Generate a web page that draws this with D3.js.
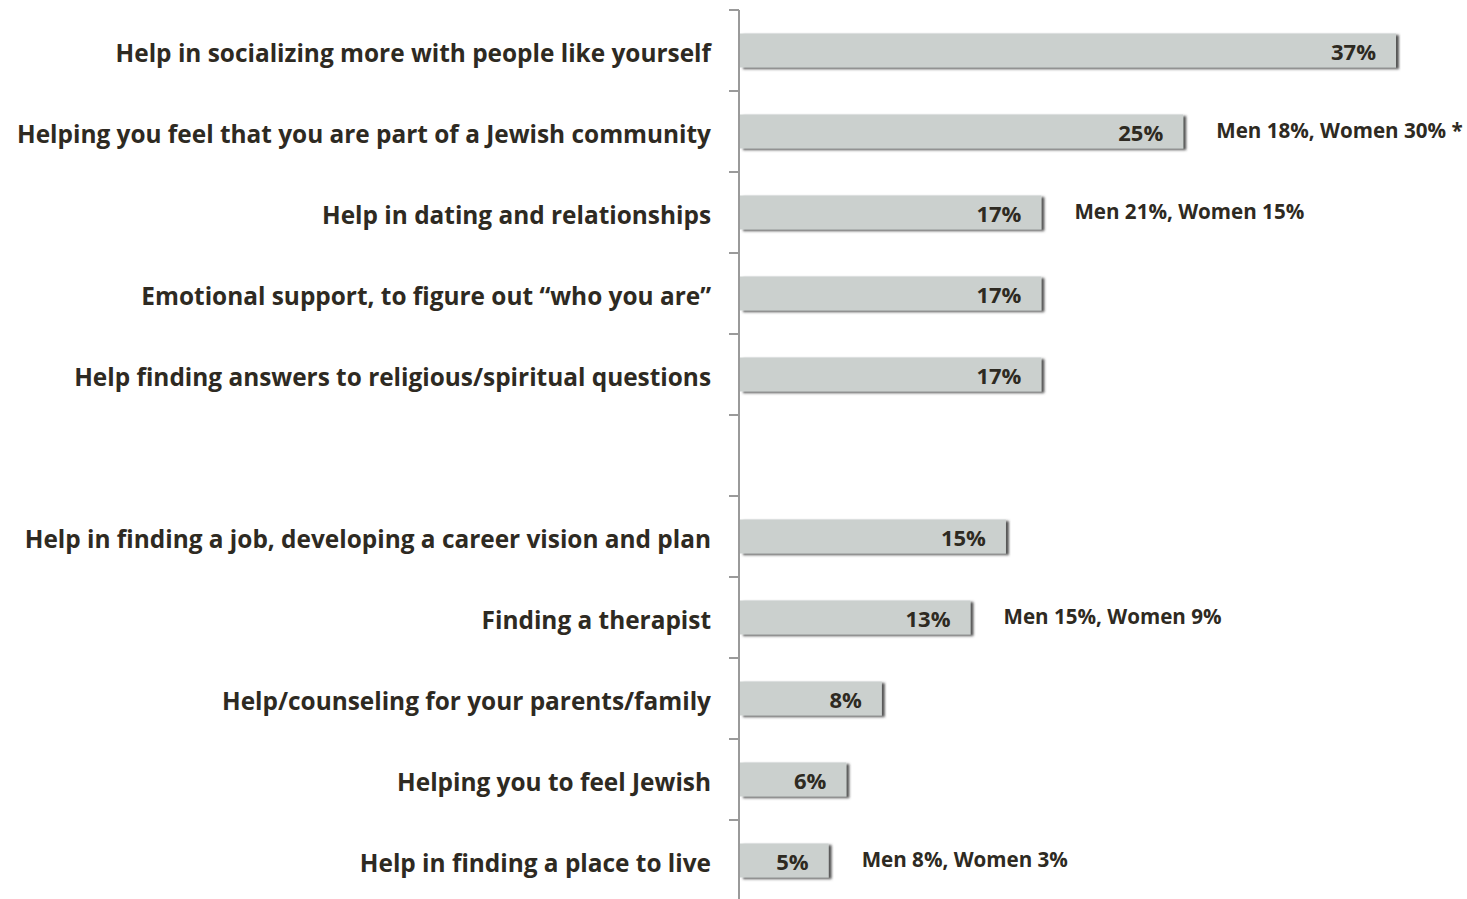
<!DOCTYPE html>
<html>
<head>
<meta charset="utf-8">
<script src="https://cdn.jsdelivr.net/npm/d3@7"></script>
<style>
  html, body { margin: 0; padding: 0; background: #ffffff; }
  svg { display: block; }
  text { font-family: "Open Sans", Lato, sans-serif; font-weight: 700; fill: #2e2a22; }
</style>
</head>
<body>
<svg id="chart" width="1467" height="899"></svg>
<script>
// Categories top to bottom; the empty string marks the gap between the two groups
const categories = [
  "Help in socializing more with people like yourself",
  "Helping you feel that you are part of a Jewish community",
  "Help in dating and relationships",
  "Emotional support, to figure out \u201cwho you are\u201d",
  "Help finding answers to religious/spiritual questions",
  "",
  "Help in finding a job, developing a career vision and plan",
  "Finding a therapist",
  "Help/counseling for your parents/family",
  "Helping you to feel Jewish",
  "Help in finding a place to live"
];
const values = [37, 25, 17, 17, 17, null, 15, 13, 8, 6, 5];
const genderNotes = [
  "",
  "Men 18%, Women 30% *",
  "Men 21%, Women 15%",
  "",
  "",
  "",
  "",
  "Men 15%, Women 9%",
  "",
  "",
  "Men 8%, Women 3%"
];

const svg = d3.select("#chart");
const axisX = 739;

const keys = categories.map((c, i) => i);
const y = d3.scaleBand().domain(keys).range([10, 901]).paddingInner(0).paddingOuter(0);
const x = d3.scaleLinear().domain([0, 37]).range([axisX + 1, 1396]);

const barH = y.bandwidth() * 0.42;
const mid = k => y(k) + y.bandwidth() / 2;

// Drop shadow for the bars
const defs = svg.append("defs");
const f = defs.append("filter").attr("id", "shadow")
  .attr("x", "-5%").attr("y", "-30%").attr("width", "115%").attr("height", "170%");
f.append("feDropShadow").attr("dx", 3).attr("dy", 1.5).attr("stdDeviation", 1.3)
  .attr("flood-color", "#3a3a3a").attr("flood-opacity", 0.85);

const rows = keys.filter(k => values[k] !== null);

// Bars
svg.append("g").selectAll("rect").data(rows).join("rect")
  .attr("x", x(0))
  .attr("y", k => mid(k) - barH / 2)
  .attr("width", k => x(values[k]) - x(0))
  .attr("height", barH)
  .attr("fill", "#cbd0ce")
  .attr("filter", "url(#shadow)");

// Vertical axis with outward ticks on band boundaries
const boundaries = d3.range(categories.length).map(i => y(i));
const axisG = svg.append("g");
axisG.append("line")
  .attr("x1", axisX).attr("x2", axisX)
  .attr("y1", y(0)).attr("y2", 899)
  .attr("stroke", "#9a9a9a").attr("stroke-width", 2);
axisG.selectAll("line.tick").data(boundaries).join("line")
  .attr("class", "tick")
  .attr("x1", axisX - 10).attr("x2", axisX)
  .attr("y1", d => d).attr("y2", d => d)
  .attr("stroke", "#9a9a9a").attr("stroke-width", 2);

// Category labels
svg.append("g").selectAll("text").data(rows).join("text")
  .attr("x", 711)
  .attr("y", k => mid(k) + 3)
  .attr("dy", "0.36em")
  .attr("text-anchor", "end")
  .attr("font-size", 24.4)
  .text(k => categories[k]);

// Value labels inside bar ends
svg.append("g").selectAll("text").data(rows).join("text")
  .attr("x", k => x(values[k]) - 20)
  .attr("y", k => mid(k) + 2)
  .attr("dy", "0.36em")
  .attr("text-anchor", "end")
  .attr("font-size", 22)
  .text(k => values[k] + "%");

// Gender breakdown notes
svg.append("g").selectAll("text").data(rows.filter(k => genderNotes[k])).join("text")
  .attr("x", k => x(values[k]) + 33)
  .attr("y", k => mid(k) - 1)
  .attr("dy", "0.36em")
  .attr("font-size", 20.6)
  .text(k => genderNotes[k]);
</script>
</body>
</html>
